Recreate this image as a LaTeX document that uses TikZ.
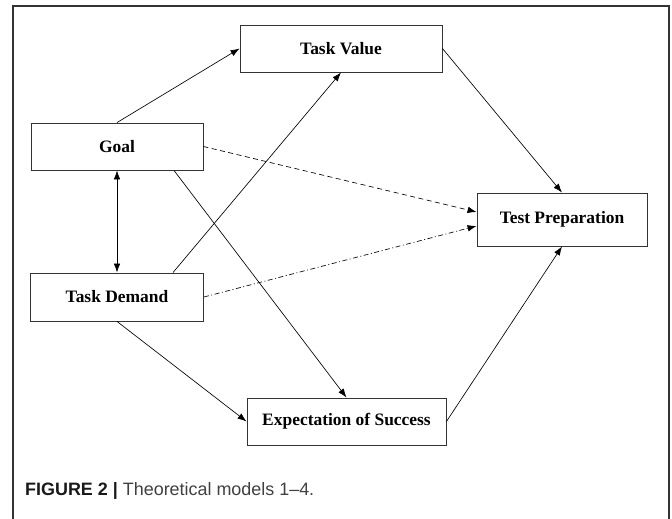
\documentclass[tikz,border=0pt]{standalone}
\usepackage{fontspec}
\setmainfont{Liberation Serif}
\setsansfont{Liberation Sans}
\usetikzlibrary{arrows.meta}
\begin{document}
\begin{tikzpicture}
    [
    x=1bp,y=-1bp,
    >={Latex[length=9bp,width=6.5bp]},
    box/.style={rectangle,draw=black!80,line width=0.9bp,inner sep=0pt,minimum height=47bp,font=\fontsize{17.5}{20}\selectfont\bfseries},
    link/.style={line width=0.65bp,draw=black},
    dashlink/.style={link,dash pattern=on 5bp off 3.5bp},
    dotlink/.style={link,dash pattern=on 5bp off 2.5bp on 1bp off 2.5bp}
    ]
    \useasboundingbox (0,0) rectangle (672,519);
    \draw [black!80,line width=1.2bp] (13,519) -- (13,6) -- (669,6) -- (669,519);
    \node (value) at (341,48.5) [box,minimum width=202bp] {Task Value};
    \node (goal) at (117,146.5) [box,minimum width=172bp] {Goal};
    \node (demand) at (117,297) [box,minimum width=173bp,minimum height=48bp] {Task Demand};
    \node (prep) at (562,219.5) [box,minimum width=170bp,minimum height=53bp] {Test Preparation};
    \node (expect) at (346.5,421.5) [box,minimum width=199bp] {Expectation of Success};
    \node (caption) at (25,495) [anchor=base west,inner sep=0pt,font=\sffamily\fontsize{18}{21}\selectfont]
        {\textcolor{black!90}{\bfseries FIGURE 2 |} \textcolor{black!75}{Theoretical models 1–4.}};
    \draw [link,->] (goal.north) to (value.west);
    \draw [link,<->] (goal.south) to (demand.north);
    \draw [dashlink,->] (goal.east) to ([yshift=7.5bp]prep.west);
    \draw [link,->] ([xshift=57bp]goal.south) to (expect.north);
    \draw [link,->] ([xshift=56bp]demand.north) to (value.south);
    \draw [link,->] (demand.south) to (expect.west);
    \draw [dotlink,->] (demand.east) to ([yshift=-6.5bp]prep.west);
    \draw [link,->] (value.east) to (prep.north);
    \draw [link,->] (expect.east) to (prep.south);
\end{tikzpicture}
\end{document}
